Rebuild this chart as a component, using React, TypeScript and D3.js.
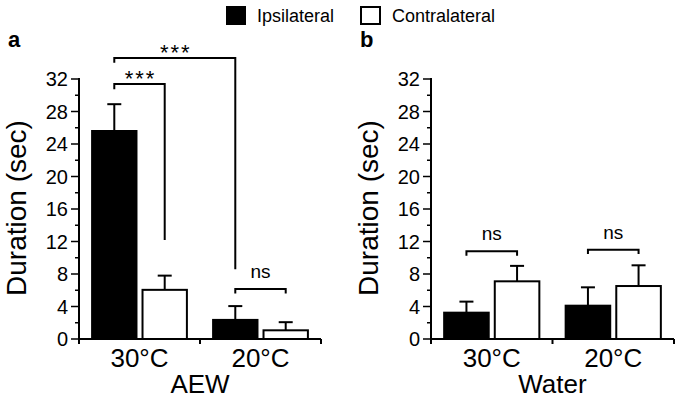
import React from 'react';
import * as d3 from 'd3';

const groups = ['30°C', '20°C'];
const series = ['Ipsilateral', 'Contralateral'];
const majorTicks = [0, 4, 8, 12, 16, 20, 24, 28, 32];
const minorTicks = [2, 6, 10, 14, 18, 22, 26, 30];

const aewIpsi = [25.6, 2.35];
const aewIpsiErr = [3.3, 1.7];
const aewContra = [6.05, 1.07];
const aewContraErr = [1.75, 1.0];

const waterIpsi = [3.24, 4.1];
const waterIpsiErr = [1.36, 2.26];
const waterContra = [7.1, 6.52];
const waterContraErr = [1.9, 2.55];

// brackets: [group, series] endpoints, bar-top height, leg end heights, label
const aewBrackets = [
  { from: [0, 0], to: [0, 1], y: 31.4, leftEnd: 30.75, rightEnd: 12.2, label: '***' },
  { from: [0, 0], to: [1, 0], y: 34.6, leftEnd: 34.0, rightEnd: 8.6, label: '***' },
  { from: [1, 0], to: [1, 1], y: 6.15, leftEnd: 5.6, rightEnd: 5.6, label: 'ns' },
];
const waterBrackets = [
  { from: [0, 0], to: [0, 1], y: 10.8, leftEnd: 10.25, rightEnd: 10.25, label: 'ns' },
  { from: [1, 0], to: [1, 1], y: 11.0, leftEnd: 10.45, rightEnd: 10.45, label: 'ns' },
];

const FONT = 'Liberation Sans, Arial, Helvetica, sans-serif';
const W = 680;
const H = 401;

const y = d3.scaleLinear().domain([0, 32]).range([339, 79]);

type Bracket = { from: number[]; to: number[]; y: number; leftEnd: number; rightEnd: number; label: string };

function Panel(props: {
  x0: number; x1: number; letter: string; title: string;
  ipsi: number[]; ipsiErr: number[]; contra: number[]; contraErr: number[];
  brackets: Bracket[];
}) {
  const { x0, x1, letter, title, ipsi, ipsiErr, contra, contraErr, brackets } = props;
  const xg = d3.scaleBand<string>().domain(groups).range([x0, x1]).padding(0);
  const bw = xg.bandwidth();
  const xs = d3.scaleBand<string>().domain(series).range([bw * 0.1, bw * 0.9]).paddingInner(0.08).paddingOuter(0);
  const vals = [ipsi, contra];
  const errs = [ipsiErr, contraErr];
  const barCenter = (g: number, s: number) => (xg(groups[g]) as number) + (xs(series[s]) as number) + xs.bandwidth() / 2;
  const capW = 14;
  const boundaries = [x0, ...groups.map((g) => (xg(g) as number) + bw)];
  return (
    <g>
      <text x={x0 - 71} y={47} fontFamily={FONT} fontWeight="bold" fontSize={22}>{letter}</text>
      {groups.map((g, gi) =>
        series.map((s, si) => {
          const bx = (xg(g) as number) + (xs(s) as number);
          const v = vals[si][gi];
          const e = errs[si][gi];
          const cx = bx + xs.bandwidth() / 2;
          return (
            <g key={g + s}>
              <line x1={cx} x2={cx} y1={y(v)} y2={y(v + e)} stroke="#000" strokeWidth={2} />
              <line x1={cx - capW / 2} x2={cx + capW / 2} y1={y(v + e)} y2={y(v + e)} stroke="#000" strokeWidth={2} />
              <rect x={bx + 1} y={y(v)} width={xs.bandwidth() - 2} height={y(0) - y(v)}
                fill={si === 0 ? '#000' : '#fff'} stroke="#000" strokeWidth={2} />
            </g>
          );
        })
      )}
      <line x1={x0} x2={x0} y1={y(32) - 1} y2={y(0) + 5} stroke="#000" strokeWidth={2} />
      {majorTicks.map((t) => (
        <g key={'M' + t}>
          <line x1={x0 - 8} x2={x0} y1={y(t)} y2={y(t)} stroke="#000" strokeWidth={1.5} />
          <text x={x0 - 11} y={y(t) + 7} textAnchor="end" fontFamily={FONT} fontSize={20}>{t}</text>
        </g>
      ))}
      {minorTicks.map((t) => (
        <line key={'m' + t} x1={x0 - 4} x2={x0} y1={y(t)} y2={y(t)} stroke="#000" strokeWidth={1.5} />
      ))}
      <line x1={x0} x2={x1} y1={y(0)} y2={y(0)} stroke="#000" strokeWidth={2} />
      {boundaries.map((b, i) => (
        <line key={'b' + i} x1={b} x2={b} y1={y(0)} y2={y(0) + 5} stroke="#000" strokeWidth={2} />
      ))}
      {groups.map((g) => (
        <text key={'l' + g} x={(xg(g) as number) + bw / 2} y={367} textAnchor="middle" fontFamily={FONT} fontSize={26}>{g}</text>
      ))}
      <text x={(x0 + x1) / 2} y={393} textAnchor="middle" fontFamily={FONT} fontSize={26}>{title}</text>
      <text transform={`translate(${x0 - 53},208) rotate(-90)`} textAnchor="middle" fontFamily={FONT} fontSize={28}>Duration (sec)</text>
      {brackets.map((b, i) => {
        const xl = barCenter(b.from[0], b.from[1]);
        const xr = barCenter(b.to[0], b.to[1]);
        const yy = y(b.y);
        const isStar = b.label === '***';
        return (
          <g key={'br' + i}>
            <path d={`M${xl},${y(b.leftEnd)}V${yy}H${xr}V${y(b.rightEnd)}`} fill="none" stroke="#000" strokeWidth={2} />
            <text x={(xl + xr) / 2 + (isStar ? 1 : 0)} y={isStar ? yy + 2 : yy - 11} textAnchor="middle" fontFamily={FONT}
              fontSize={isStar ? 22 : 19} letterSpacing={isStar ? 2 : 0}>{b.label}</text>
          </g>
        );
      })}
    </g>
  );
}

export default function App() {
  return (
    <svg width={W} height={H} style={{ position: 'absolute', left: 0, top: 0, background: '#fff' }}>
      <rect x={0} y={0} width={W} height={H} fill="#fff" />
      <rect x={226} y={6} width={20} height={19} fill="#000" />
      <text x={257} y={22} fontFamily={FONT} fontSize={18}>{series[0]}</text>
      <rect x={361} y={7} width={19} height={17} fill="#fff" stroke="#000" strokeWidth={2} />
      <text x={392} y={22} fontFamily={FONT} fontSize={18}>{series[1]}</text>
      <Panel x0={79} x1={321} letter="a" title="AEW" ipsi={aewIpsi} ipsiErr={aewIpsiErr}
        contra={aewContra} contraErr={aewContraErr} brackets={aewBrackets} />
      <Panel x0={431} x1={674} letter="b" title="Water" ipsi={waterIpsi} ipsiErr={waterIpsiErr}
        contra={waterContra} contraErr={waterContraErr} brackets={waterBrackets} />
    </svg>
  );
}
